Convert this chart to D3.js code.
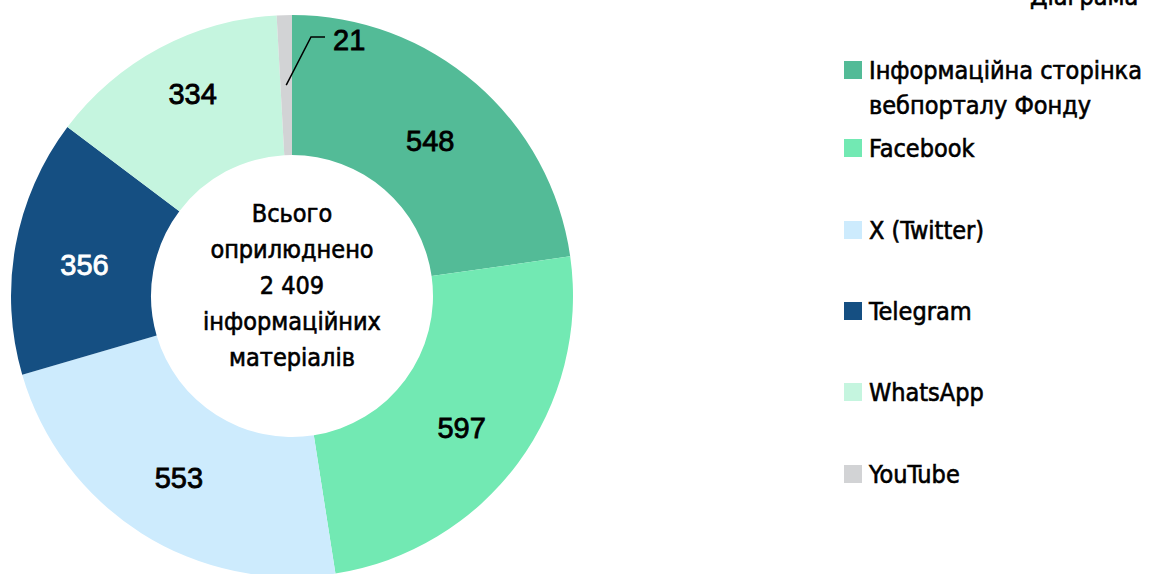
<!DOCTYPE html>
<html>
<head>
<meta charset="utf-8">
<script src="https://cdn.jsdelivr.net/npm/d3@7"></script>
<style>
  html, body { margin: 0; padding: 0; background: #fff; }
  svg text { font-family: "DejaVu Sans Condensed", "DejaVu Sans", sans-serif; font-stretch: condensed; stroke-width: 0.6px; }
  svg text.num { font-family: "Liberation Sans Narrow", "Arial Narrow", sans-serif; stroke-width: 0.8px; }
</style>
</head>
<body>
<svg id="chart" width="1154" height="574"></svg>
<script>
const categories = ["Інформаційна сторінка\nвебпорталу Фонду", "Facebook", "X (Twitter)", "Telegram", "WhatsApp", "YouTube"];
const values = [548, 597, 553, 356, 334, 21];
const colors = ["#53BB97", "#72E9B3", "#CDEBFD", "#154F82", "#C5F5DF", "#D2D3D5"];
const labelColors = ["#000", "#000", "#000", "#fff", "#000", "#000"];
const labelShiftY = [4, 6, 4, 7, -16, 0];
const centerLines = ["Всього", "оприлюднено", "2 409", "інформаційних", "матеріалів"];
const titleText = "Діаграма";

const svg = d3.select("#chart");
const cx = 292, cy = 296, rOuter = 281, rInner = 141;

const pie = d3.pie().sort(null).value(d => d.value).startAngle(0).endAngle(2 * Math.PI);
const data = categories.map((c, i) => ({ name: c, value: values[i], color: colors[i], lc: labelColors[i], sy: labelShiftY[i] }));
const arcs = pie(data);
const arc = d3.arc().innerRadius(rInner).outerRadius(rOuter);

const g = svg.append("g").attr("transform", `translate(${cx},${cy})`);
g.selectAll("path").data(arcs).enter().append("path")
  .attr("d", arc).attr("fill", d => d.data.color);

arcs.forEach((a, i) => {
  if (a.data.value < 50) {
    const mid = (a.startAngle + a.endAngle) / 2;
    const p0 = [Math.sin(mid) * (rOuter - 70), -Math.cos(mid) * (rOuter - 70)];
    const p1 = [19, -259];
    const p2 = [33, -259];
    g.append("polyline").attr("points", [p0, p1, p2].map(p => p.join(",")).join(" "))
      .attr("fill", "none").attr("stroke", "#000").attr("stroke-width", 1.5);
    g.append("text").attr("class", "num").attr("x", 41).attr("y", -256).attr("dy", "0.35em")
      .attr("font-size", 29).attr("fill", a.data.lc).attr("stroke", a.data.lc).text(a.data.value);
  } else {
    const c = arc.centroid(a);
    g.append("text").attr("class", "num").attr("x", c[0]).attr("y", c[1] + a.data.sy).attr("dy", "0.35em")
      .attr("text-anchor", "middle").attr("font-size", 29).attr("fill", a.data.lc).attr("stroke", a.data.lc)
      .text(a.data.value);
  }
});

const ct = g.append("text").attr("text-anchor", "middle").attr("font-size", 25).attr("fill", "#000").attr("stroke", "#000");
centerLines.forEach((t, i) => {
  ct.append("tspan").attr("x", 0).attr("y", -83 + i * 36).attr("dy", "0.35em").text(t);
});

const legendY = [70, 148, 230, 311, 392, 474];
const lg = svg.append("g");
data.forEach((d, i) => {
  const y = legendY[i];
  lg.append("rect").attr("x", 844).attr("y", y - 9).attr("width", 18).attr("height", 18).attr("fill", d.color);
  const lines = d.name.split("\n");
  const t = lg.append("text").attr("font-size", 25).attr("fill", "#000").attr("stroke", "#000");
  lines.forEach((ln, j) => {
    t.append("tspan").attr("x", 869).attr("y", y + j * 35).attr("dy", "0.35em").text(ln);
  });
});

svg.append("text").attr("x", 1030).attr("y", 5).attr("font-size", 25).attr("fill", "#000").attr("stroke", "#000").text(titleText);
</script>
</body>
</html>
